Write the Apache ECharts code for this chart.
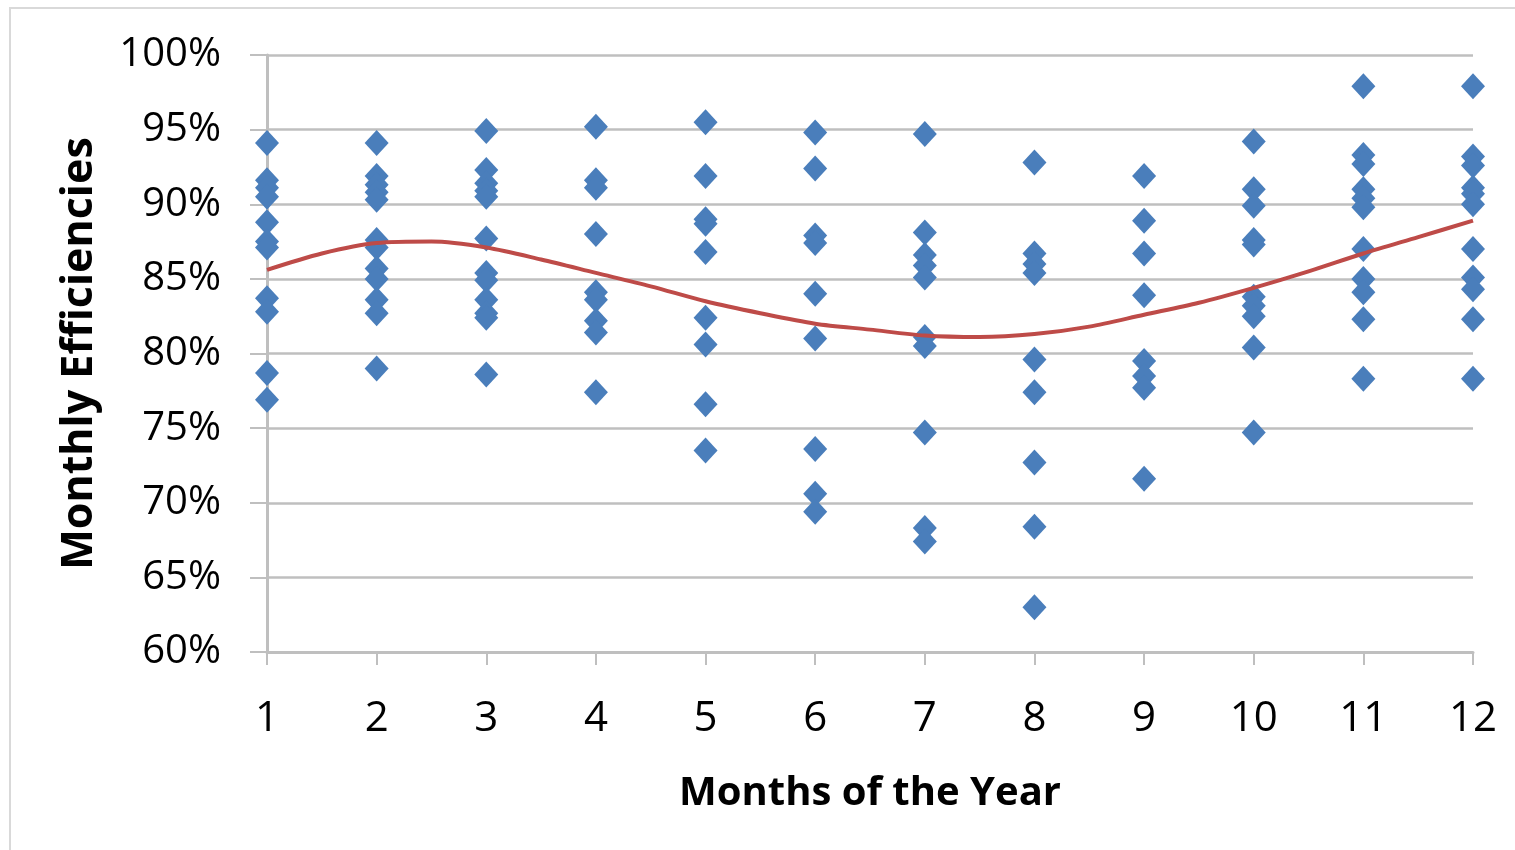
<!DOCTYPE html>
<html>
<head>
<meta charset="utf-8">
<script src="https://cdn.jsdelivr.net/npm/echarts@6/dist/echarts.min.js"></script>
<style>
  html, body { margin: 0; padding: 0; background: #fff; }
  #chart { width: 1515px; height: 850px; }
</style>
</head>
<body>
<div id="chart"></div>
<script>
// monthly efficiencies (%), one array per month
const effJan = [94.1, 91.6, 91.1, 90.5, 88.8, 87.5, 87.1, 83.7, 82.8, 78.7, 76.9];
const effFeb = [94.1, 91.9, 91.3, 90.8, 90.3, 87.6, 87.1, 85.7, 85.0, 83.6, 82.7, 79.0];
const effMar = [94.9, 92.3, 91.4, 90.9, 90.5, 87.7, 85.4, 84.9, 83.6, 82.7, 82.4, 78.6];
const effApr = [95.2, 91.6, 91.1, 88.0, 84.1, 83.6, 82.2, 81.4, 77.4];
const effMay = [95.5, 91.9, 89.0, 88.7, 86.8, 82.4, 80.6, 76.6, 73.5];
const effJun = [94.8, 92.4, 87.9, 87.4, 84.0, 81.0, 73.6, 70.6, 69.4];
const effJul = [94.7, 88.1, 86.6, 85.9, 85.1, 81.1, 80.5, 74.7, 68.3, 67.4];
const effAug = [92.8, 86.7, 86.0, 85.4, 79.6, 77.4, 72.7, 68.4, 63.0];
const effSep = [91.9, 88.9, 86.7, 83.9, 79.5, 78.5, 77.7, 71.6];
const effOct = [94.2, 91.0, 89.9, 87.6, 87.3, 83.8, 83.2, 82.5, 80.4, 74.7];
const effNov = [97.9, 93.3, 92.7, 91.0, 90.4, 89.8, 87.0, 85.0, 84.1, 82.3, 78.3];
const effDec = [97.9, 93.2, 92.6, 91.1, 90.7, 90.0, 87.0, 85.1, 84.3, 82.3, 78.3];

// polynomial trend line, every half month
const trendMonths = [1, 1.5, 2, 2.5, 3, 3.5, 4, 4.5, 5, 5.5, 6, 6.5, 7, 7.5, 8, 8.5, 9, 9.5, 10, 10.5, 11, 11.5, 12];
const trendEff = [85.6, 86.7, 87.4, 87.5, 87.1, 86.3, 85.4, 84.5, 83.5, 82.7, 82.0, 81.6, 81.2, 81.1, 81.3, 81.8, 82.6, 83.4, 84.4, 85.5, 86.7, 87.8, 88.9];

const months = [1, 2, 3, 4, 5, 6, 7, 8, 9, 10, 11, 12];
const byMonth = [effJan, effFeb, effMar, effApr, effMay, effJun, effJul, effAug, effSep, effOct, effNov, effDec];

const points = [];
byMonth.forEach((vals, i) => vals.forEach(v => points.push([months[i], v])));

const FONT = 'Open Sans';
const GRID_GREY = '#bfbfbf';

const chart = echarts.init(document.getElementById('chart'));
chart.setOption({
  animation: false,
  grid: { left: 267, right: 42, top: 55, bottom: 198 },
  graphic: [{
    type: 'rect',
    shape: { x: 10, y: 8, width: 1520, height: 860 },
    style: { fill: null, stroke: '#d9d9d9', lineWidth: 2 },
    silent: true
  }],
  xAxis: {
    type: 'value',
    min: 1,
    max: 12,
    interval: 1,
    name: 'Months of the Year',
    nameLocation: 'middle',
    nameGap: 122,
    nameTextStyle: { fontFamily: FONT, fontSize: 40, fontWeight: 'bold', color: '#000' },
    axisLine: { onZero: false, lineStyle: { color: GRID_GREY, width: 3 } },
    axisTick: { show: true, length: 13, lineStyle: { color: GRID_GREY, width: 2 } },
    axisLabel: { fontFamily: FONT, fontSize: 42, color: '#000', margin: 46 },
    splitLine: { show: false }
  },
  yAxis: {
    type: 'value',
    min: 60,
    max: 100,
    interval: 5,
    name: 'Monthly Efficiencies',
    nameLocation: 'middle',
    nameGap: 166,
    nameTextStyle: { fontFamily: FONT, fontSize: 43, fontWeight: 'bold', color: '#000' },
    axisLine: { show: true, lineStyle: { color: GRID_GREY, width: 3 } },
    axisTick: { show: true, length: 17, lineStyle: { color: GRID_GREY, width: 2 } },
    axisLabel: { fontFamily: FONT, fontSize: 40, color: '#000', margin: 46, formatter: '{value}%' },
    splitLine: { lineStyle: { color: GRID_GREY, width: 2.5 } }
  },
  series: [
    {
      type: 'scatter',
      data: points,
      symbol: 'diamond',
      symbolSize: [24, 26],
      itemStyle: { color: '#4a7ebb', opacity: 1 },
      z: 3
    },
    {
      type: 'line',
      data: trendMonths.map((m, i) => [m, trendEff[i]]),
      smooth: 0.3,
      showSymbol: false,
      lineStyle: { color: '#be4b48', width: 4 },
      z: 4
    }
  ]
});
</script>
</body>
</html>
